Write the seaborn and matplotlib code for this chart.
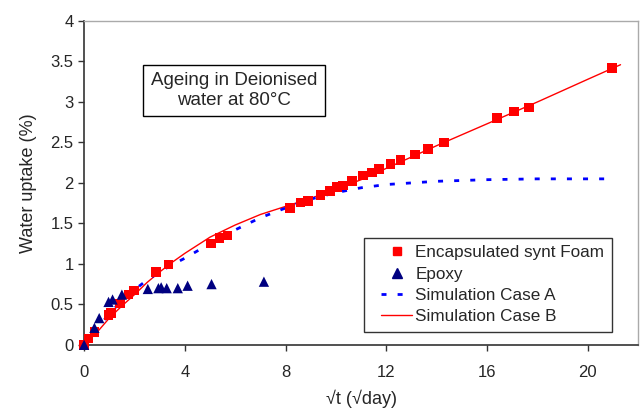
import matplotlib
matplotlib.use("Agg")
import matplotlib.pyplot as plt
import seaborn as sns
import pandas as pd
from matplotlib.lines import Line2D
from matplotlib.legend_handler import HandlerLine2D

# ---- data ----
foam_x = [0, 0.17, 0.41, 0.97, 1.06, 1.43, 1.76, 1.98, 2.86, 3.35, 5.03, 5.37, 5.69,
          8.17, 8.6, 8.9, 9.39, 9.76, 10.05, 10.29, 10.65, 11.08, 11.42, 11.72, 12.16,
          12.57, 13.13, 13.66, 14.29, 16.4, 17.08, 17.67, 20.97]
foam_y = [0, 0.08, 0.16, 0.37, 0.39, 0.51, 0.62, 0.67, 0.90, 0.99, 1.25, 1.32, 1.35,
          1.69, 1.76, 1.78, 1.85, 1.90, 1.95, 1.97, 2.02, 2.09, 2.13, 2.17, 2.23,
          2.28, 2.35, 2.42, 2.50, 2.80, 2.88, 2.93, 3.42]

epoxy_x = [0, 0.41, 0.6, 0.97, 1.13, 1.5, 2.53, 2.95, 3.06, 3.28, 3.72, 4.11, 5.06, 7.14]
epoxy_y = [0, 0.21, 0.33, 0.53, 0.56, 0.62, 0.69, 0.70, 0.71, 0.70, 0.70, 0.73, 0.75, 0.78]

simA_x = [0, 0.5, 1, 1.5, 2, 2.5, 3, 3.5, 4, 5, 6, 7, 8, 9, 10, 11, 12, 13, 14, 16, 18, 21]
simA_y = [0, 0.2, 0.38, 0.55, 0.68, 0.8, 0.9, 0.99, 1.07, 1.25, 1.42, 1.57, 1.69, 1.8,
          1.88, 1.94, 1.98, 2.0, 2.02, 2.04, 2.05, 2.05]

simB_x = [0, 0.5, 1, 1.5, 2, 2.5, 3, 3.5, 4, 5, 6, 7, 8, 9, 10, 11, 12, 13, 14, 16, 18, 20, 21.3]
simB_y = [0, 0.15, 0.33, 0.48, 0.62, 0.77, 0.9, 1.02, 1.13, 1.33, 1.48, 1.61, 1.71, 1.81,
          1.92, 2.04, 2.18, 2.32, 2.46, 2.73, 3.0, 3.28, 3.46]

x_ticks = [0, 4, 8, 12, 16, 20]
y_ticks = [0, 0.5, 1, 1.5, 2, 2.5, 3, 3.5, 4]
y_tick_labels = ["0", "0.5", "1", "1.5", "2", "2.5", "3", "3.5", "4"]

sns.set_style("white")
plt.rcParams['font.family'] = ['Liberation Sans', 'DejaVu Sans']

fig = plt.figure(figsize=(6.42, 4.20), dpi=100)
ax = fig.add_axes([0.131, 0.179, 0.863, 0.771])

dfA = pd.DataFrame({"x": simA_x, "y": simA_y})
dfB = pd.DataFrame({"x": simB_x, "y": simB_y})
dfF = pd.DataFrame({"x": foam_x, "y": foam_y})
dfE = pd.DataFrame({"x": epoxy_x, "y": epoxy_y})

dash = (0, (1.8, 4.0))
sns.lineplot(data=dfB, x="x", y="y", ax=ax, color="#FF0000", lw=1.0, sort=False, zorder=2)
sns.lineplot(data=dfA, x="x", y="y", ax=ax, color="#0000FF", lw=2.0,
             linestyle=dash, sort=False, zorder=2.5)
sns.scatterplot(data=dfF, x="x", y="y", ax=ax, marker="s", color="#FF0000", s=48,
                edgecolor="none", zorder=3, clip_on=False)
sns.scatterplot(data=dfE, x="x", y="y", ax=ax, marker="^", color="#000080", s=55,
                edgecolor="none", zorder=4, clip_on=False)

ax.set_xlim(0, 22)
ax.set_ylim(0, 4)
ax.set_xticks(x_ticks)
ax.set_xticklabels([str(t) for t in x_ticks], fontsize=12)
ax.set_yticks(y_ticks)
ax.set_yticklabels(y_tick_labels, fontsize=12)
ax.tick_params(axis="both", direction="out", length=4.5, width=1, color="#333333",
               bottom=True, left=True)
ax.tick_params(axis="x", pad=10)
ax.tick_params(axis="y", pad=3)
ax.set_xlabel("\u221at (\u221aday)", fontsize=13, labelpad=7)
ax.set_ylabel("Water uptake (%)", fontsize=13, labelpad=10)

for s in ["left", "bottom"]:
    ax.spines[s].set_color("#333333")
    ax.spines[s].set_linewidth(1.2)
for s in ["top", "right"]:
    ax.spines[s].set_color("#aaaaaa")
    ax.spines[s].set_linewidth(1.0)

ax.text(5.95, 3.14, "Ageing in Deionised\nwater at 80\u00b0C", ha="center", va="center",
        fontsize=13.5, linespacing=1.2,
        bbox=dict(boxstyle="square,pad=0.4", fc="white", ec="black", lw=1.0))

handles = [
    Line2D([], [], marker="s", color="#FF0000", ls="none", markersize=6.3),
    Line2D([], [], marker="^", color="#000080", ls="none", markersize=6.5),
    Line2D([], [], color="#0000FF", lw=2.0, ls=dash),
    Line2D([], [], color="#FF0000", lw=1.0),
]
labels = ["Encapsulated synt Foam", "Epoxy", "Simulation Case A", "Simulation Case B"]
hmap = {h: HandlerLine2D(xpad=0.54) for h in handles}
leg = ax.legend(handles, labels, loc="lower right", bbox_to_anchor=(0.953, 0.041),
                borderaxespad=0, fontsize=12.3, frameon=True, fancybox=False,
                edgecolor="black", handlelength=2.36, handletextpad=0.19,
                labelspacing=0.36, borderpad=0.45, handler_map=hmap)
leg.get_frame().set_linewidth(1.0)

fig.savefig("out.png", dpi=100)
